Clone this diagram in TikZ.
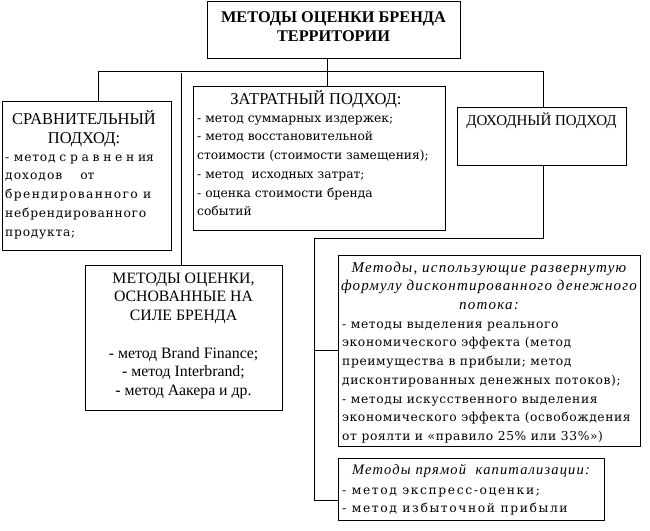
\documentclass[tikz,border=0pt]{standalone}
\usepackage{fontspec}
\setmainfont{Liberation Serif}
\newfontfamily\bodyfam{DejaVu Serif}
\newcommand\bodyf{\bodyfam\fontsize{12.3}{18.7}\selectfont}
\newcommand\lsp[2]{{\addfontfeature{LetterSpace=#1}#2}}
\newcommand\headf{\fontsize{16.5}{19}\selectfont}
\begin{document}
\begin{tikzpicture}[x=1pt,y=-1pt,
  box/.style={draw, line width=0.8pt, inner sep=0pt, anchor=north west},
  txt/.style={inner sep=0pt, align=left, anchor=north west, font=\bodyf},
  ctxt/.style={inner sep=0pt, align=center, anchor=north},
  link/.style={line width=0.8pt}]
\useasboundingbox (0,0) rectangle (650,530);
% boxes
\node[box, minimum width=253, minimum height=57] (top) at (207,1) {};
\node[box, minimum width=169, minimum height=149] (srav) at (2,101) {};
\node[box, minimum width=252, minimum height=144] (zat) at (193,86) {};
\node[box, minimum width=169, minimum height=58] (doh) at (457,107) {};
\node[box, minimum width=197, minimum height=145] (met) at (85,265) {};
\node[box, minimum width=302, minimum height=191] (dcf) at (338,255) {};
\node[box, minimum width=266, minimum height=62] (bot) at (338,458) {};
% texts
\node[ctxt, font=\fontsize{16.3}{19}\selectfont\bfseries] (ttop) at (333.5,8.7) {\strut МЕТОДЫ ОЦЕНКИ БРЕНДА\\ТЕРРИТОРИИ};
\node[ctxt, font=\headf] (tsravh) at (84,110) {\strut СРАВНИТЕЛЬНЫЙ\\ПОДХОД:};
\node[txt] (tsrav) at (5,148) {\strut \lsp{6}{- метод} \lsp{30}{сравнени}я\\\lsp{8}{доходов}\hspace{18pt}от\\\lsp{11}{брендированного и}\\\lsp{6}{небрендированного}\\\lsp{6}{продукта;}};
\node[inner sep=0pt, anchor=base, font=\headf] (tzath) at (316,104) {ЗАТРАТНЫЙ ПОДХОД:};
\node[txt] (tzat) at (197,109) {\strut - метод суммарных издержек;\\- метод восстановительной\\стоимости (стоимости замещения);\\- метод\ \ исходных затрат;\\- оценка стоимости бренда\\событий};
\node[inner sep=0pt, anchor=base, font=\fontsize{15}{19}\selectfont] (tdoh) at (541.5,125) {ДОХОДНЫЙ ПОДХОД};
\node[ctxt, font=\fontsize{15.8}{18.7}\selectfont] (tmet) at (183.5,270) {\strut МЕТОДЫ ОЦЕНКИ,\\ОСНОВАННЫЕ НА\\СИЛЕ БРЕНДА\\[18.7pt]- метод Brand Finance;\\- метод Interbrand;\\- метод Аакера и др.};
\node[ctxt, font=\fontsize{15}{18.7}\selectfont\itshape\addfontfeature{LetterSpace=8}] (tdcfh) at (489,259) {\strut Методы, использующие развернутую\\формулу дисконтированного денежного\\потока:};
\node[txt, font=\bodyf\addfontfeature{LetterSpace=5}] (tdcf) at (342,315) {\strut - методы выделения реального\\экономического эффекта (метод\\преимущества в прибыли; метод\\дисконтированных денежных потоков);\\- методы искусственного выделения\\экономического эффекта (освобождения\\от роялти и «правило 25\% или 33\%»)};
\node[inner sep=0pt, anchor=base, font=\fontsize{14.5}{18.7}\selectfont\itshape\addfontfeature{LetterSpace=8}] (tboth) at (471,474) {Методы прямой\ \ капитализации:};
\node[txt, font=\bodyf\addfontfeature{LetterSpace=13}] (tbot) at (342,481) {\strut - метод экспресс-оценки;\\- метод избыточной прибыли};
% connectors
\coordinate (hl) at (98,71);
\coordinate (hr) at (543,71);
\coordinate (hm) at (327,71);
\coordinate (c2) at (181,73);
\coordinate (k1) at (314,238);
\coordinate (k2) at (314,500);
\coordinate (k3) at (314,350);
\draw[link] (top.south -| hm) -- (zat.north -| hm);
\draw[link] (srav.north -| hl) -- (hl) -- (hr) -- (doh.north -| hr);
\draw[link] (c2) -- (met.north -| c2);
\draw[link] (doh.south -| hr) |- (k1) -- (k2) -- (bot.west |- k2);
\draw[link] (k3) -- (dcf.west |- k3);
\end{tikzpicture}
\end{document}
